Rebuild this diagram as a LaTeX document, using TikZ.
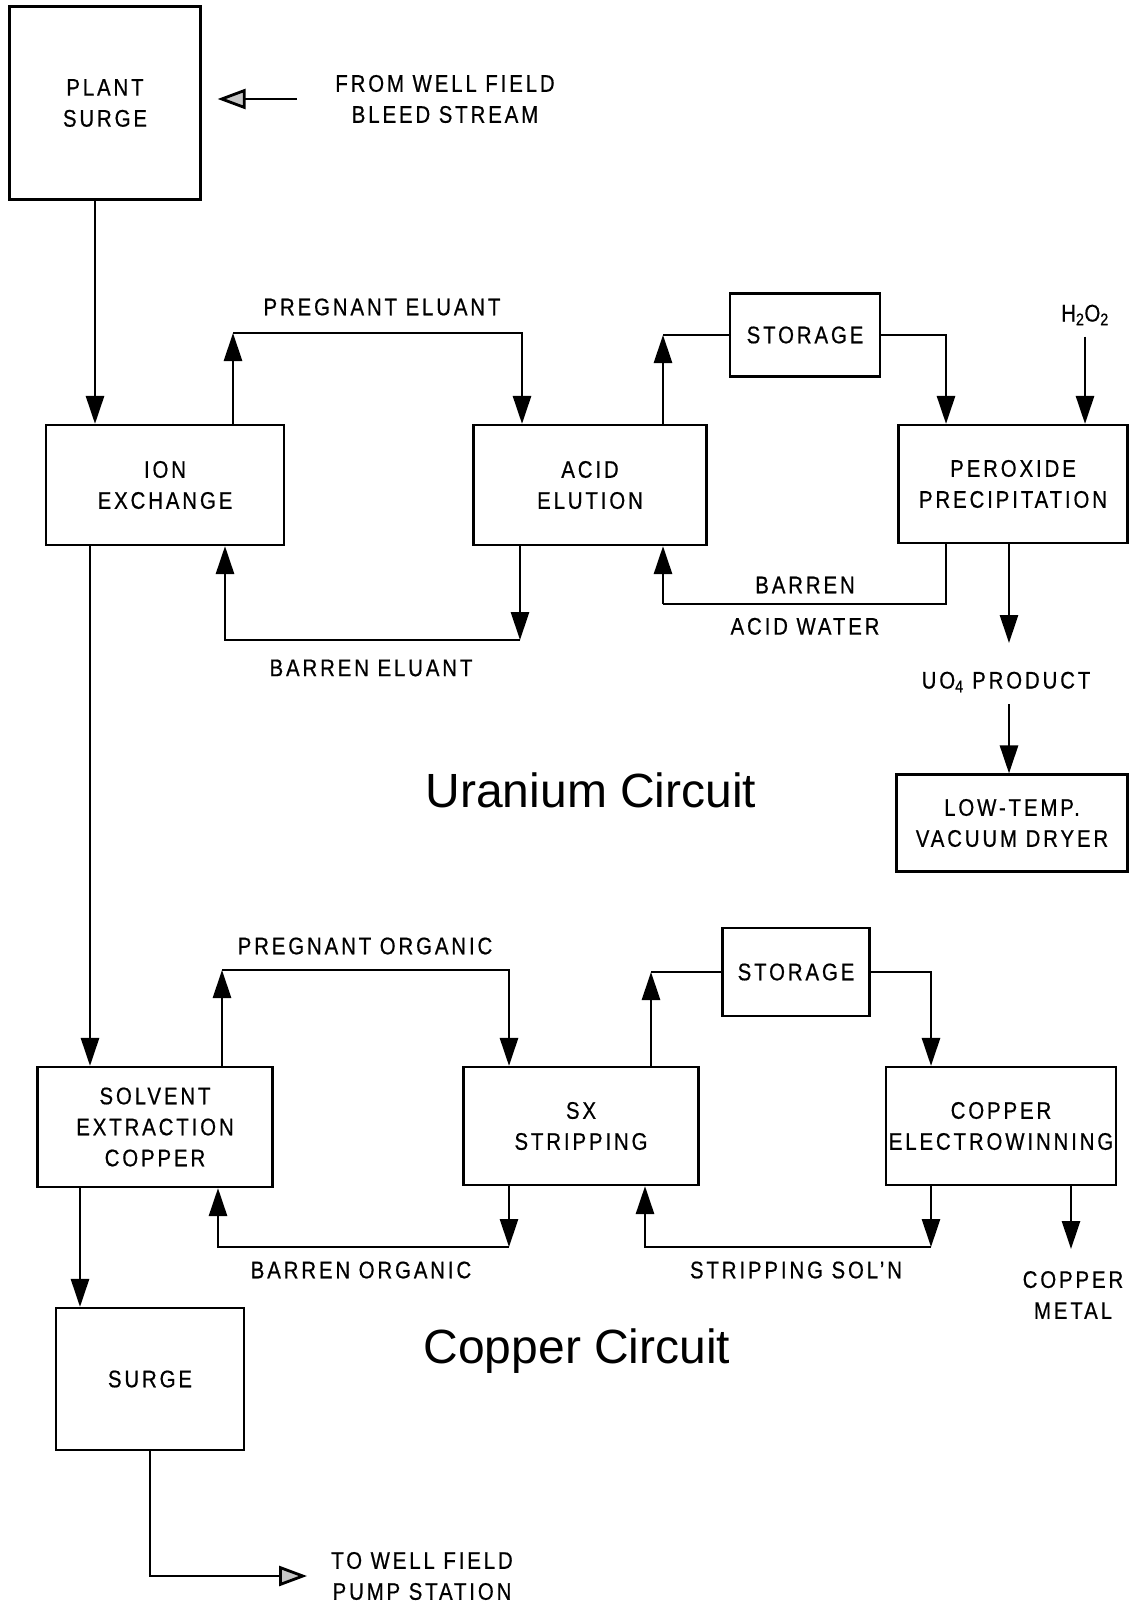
\documentclass[tikz,border=0pt]{standalone}
\usepackage{fontspec}
\setmainfont{Liberation Sans}[FakeStretch=0.85, LetterSpace=12, FakeBold=0.6]
\newfontfamily\circuitfont{Liberation Sans}
\usetikzlibrary{arrows.meta, positioning}
\tikzset{
  every picture/.style={font=\fontsize{24}{31}\selectfont, line width=2.6pt},
  box/.style={draw, align=center, inner sep=0pt, line width=2.2pt},
  flow/.style={-{Triangle[length=28pt, width=18pt]}, line width=2.8pt},
  feed/.style={-{Triangle[length=28pt, width=20pt, fill=gray!45]}, line width=2.8pt},
  lbl/.style={align=center, inner sep=0pt},
  title/.style={font=\circuitfont\fontsize{48}{56}\selectfont},
}
\begin{document}
\begin{tikzpicture}[x=1pt, y=-1pt]
  \useasboundingbox (0,0) rectangle (1130,1605);
  % uranium circuit
  \node[box, minimum width=191pt, minimum height=193pt] (plant) at (105,103) {PLANT\\SURGE};
  \node[lbl] (wellin) at (445,99) {FROM WELL FIELD\\BLEED STREAM};
  \node[box, minimum width=238pt, minimum height=120pt] (ionx) at (165,485) {ION\\EXCHANGE};
  \node[box, minimum width=233pt, minimum height=120pt] (elut) at (590,485) {ACID\\ELUTION};
  \node[box, minimum width=150pt, minimum height=83pt] (ustore) at (805,335) {STORAGE};
  \node[box, minimum width=229pt, minimum height=118pt] (perox) at (1013,484) {PEROXIDE\\PRECIPITATION};
  \node[box, minimum width=231pt, minimum height=97pt] (dryer) at (1012,823) {LOW-TEMP.\\VACUUM DRYER};
  \node[lbl] (h2o2) at (1085,315) {H\textsubscript{2}O\textsubscript{2}};
  \node[lbl] (uo4) at (1006,682) {UO\textsubscript{4} PRODUCT};
  \node[lbl] (pregel) at (382,307) {PREGNANT ELUANT};
  \node[lbl] (barel) at (371,668) {BARREN ELUANT};
  \node[lbl] (baracid) at (805,585) {BARREN};
  \node[lbl, below=22pt of baracid.south] (acidw) {ACID WATER};
  \node[title] (utitle) at (591,790) {Uranium Circuit};

  \coordinate (win) at (297,99);
  \coordinate (pe1) at (233,333);
  \coordinate (pe2) at (522,333);
  \coordinate (be1) at (520,640);
  \coordinate (be2) at (225,640);
  \coordinate (us1) at (663,335);
  \coordinate (us2) at (946,335);
  \coordinate (ba1) at (946,604);
  \coordinate (ba2) at (663,604);
  \coordinate (uo1) at (1009,643);
  \coordinate (uo2) at (1009,704);

  \draw[feed] (win) -- (plant.east |- win) [shorten >=16pt];
  \draw[flow] ([xshift=-10pt]plant.south) -- ([xshift=-10pt]plant.south |- ionx.north);
  \draw[flow] (ionx.north -| pe1) -- (pe1);
  \draw[flow] (pe1) -- (pe2) -- (pe2 |- elut.north);
  \draw[flow] (elut.south -| be1) -- (be1);
  \draw[flow] (be1) -- (be2) -- (be2 |- ionx.south);
  \draw[flow] (elut.north -| us1) -- (us1);
  \draw (us1) -- (ustore.west);
  \draw[flow] (ustore.east) -- (us2) -- (us2 |- perox.north);
  \draw[flow] ([yshift=-10pt]h2o2.south) -- (h2o2.south |- perox.north);
  \draw (perox.south -| ba1) -- (ba1) -- (ba2);
  \draw[flow] (ba2) -- (ba2 |- elut.south);
  \draw[flow] (perox.south -| uo1) -- (uo1);
  \draw[flow] (uo2) -- (uo2 |- dryer.north);

  % copper circuit
  \node[box, minimum width=235pt, minimum height=120pt] (sxcu) at (155,1127) {SOLVENT\\EXTRACTION\\COPPER};
  \node[box, minimum width=235pt, minimum height=118pt] (strip) at (581,1126) {SX\\STRIPPING};
  \node[box, minimum width=147pt, minimum height=88pt] (cstore) at (796,972) {STORAGE};
  \node[box, minimum width=230pt, minimum height=118pt] (ewin) at (1001,1126) {COPPER\\ELECTROWINNING};
  \node[box, minimum width=188pt, minimum height=142pt] (surge) at (150,1379) {SURGE};
  \node[lbl] (pregorg) at (365,946) {PREGNANT ORGANIC};
  \node[lbl] (barorg) at (361,1270) {BARREN ORGANIC};
  \node[lbl] (stripsol) at (796,1270) {STRIPPING SOL'N};
  \node[lbl] (cumetal) at (1073,1295) {COPPER\\METAL};
  \node[lbl] (wellout) at (422,1576) {TO WELL FIELD\\PUMP STATION};
  \node[title] (ctitle) at (577,1351) {Copper Circuit};

  \coordinate (po1) at (222,970);
  \coordinate (po2) at (509,970);
  \coordinate (bo1) at (509,1247);
  \coordinate (bo2) at (218,1247);
  \coordinate (cs1) at (651,972);
  \coordinate (cs2) at (931,972);
  \coordinate (ss1) at (931,1247);
  \coordinate (ss2) at (645,1247);
  \coordinate (cm1) at (1071,1249);
  \coordinate (wout) at (307,1576);

  \draw[flow] ([xshift=-75pt]ionx.south) -- ([xshift=-75pt]ionx.south |- sxcu.north);
  \draw[flow] (sxcu.north -| po1) -- (po1);
  \draw[flow] (po1) -- (po2) -- (po2 |- strip.north);
  \draw[flow] (strip.south -| bo1) -- (bo1);
  \draw[flow] (bo1) -- (bo2) -- (bo2 |- sxcu.south);
  \draw[flow] (strip.north -| cs1) -- (cs1);
  \draw (cs1) -- (cstore.west);
  \draw[flow] (cstore.east) -- (cs2) -- (cs2 |- ewin.north);
  \draw[flow] (ewin.south -| ss1) -- (ss1);
  \draw[flow] (ss1) -- (ss2) -- (ss2 |- strip.south);
  \draw[flow] (ewin.south -| cm1) -- (cm1);
  \draw[flow] ([xshift=-75pt]sxcu.south) -- ([xshift=-75pt]sxcu.south |- surge.north);
  \draw[feed] (surge.south) |- (wout);
\end{tikzpicture}
\end{document}
